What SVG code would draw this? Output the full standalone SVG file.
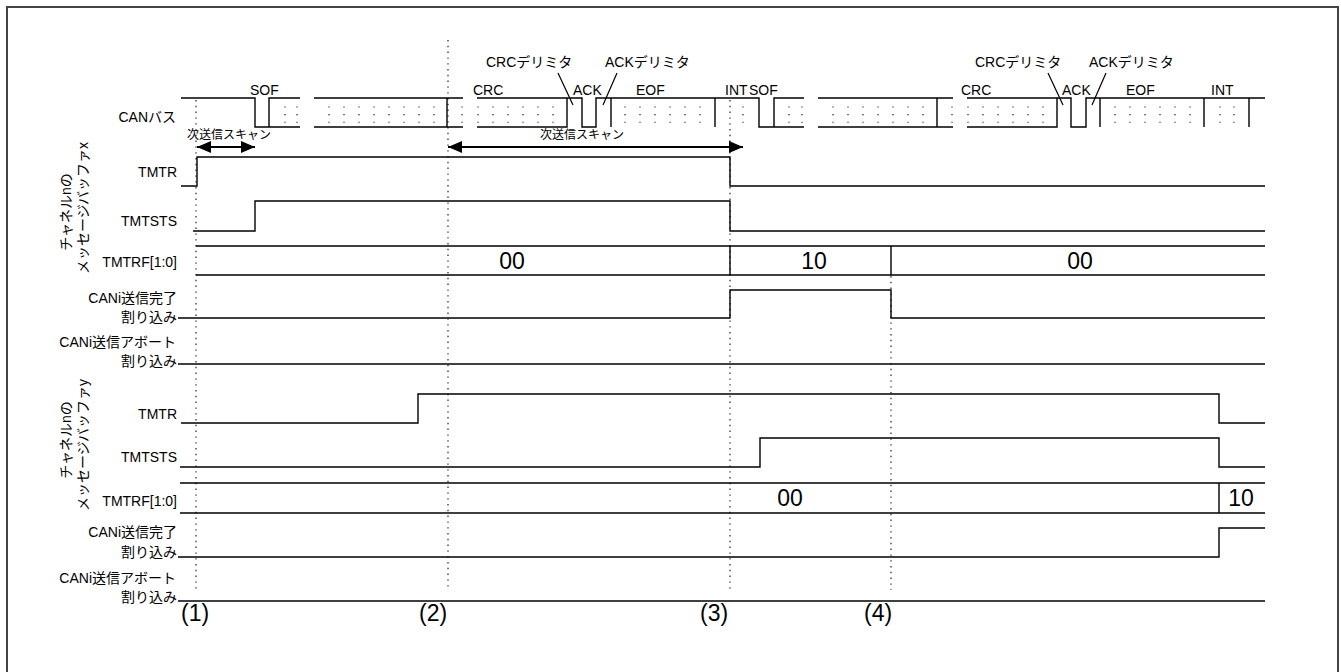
<svg xmlns="http://www.w3.org/2000/svg" width="1341" height="672" viewBox="0 0 1341 672">
<style>
text{font-family:"Liberation Sans","Noto Sans CJK JP",sans-serif;fill:#000}
.lbl{font-size:14px;text-anchor:end}
.bus{font-size:14px}
.scan{font-size:12px}
.val{font-size:23px;text-anchor:middle}
.pt{font-size:23px}
.sig{fill:none;stroke:#000;stroke-width:1.4}
.dot{fill:none;stroke:#000;stroke-width:1.1;stroke-dasharray:1.1 6.5}
.vdot{fill:none;stroke:#222;stroke-width:1.2;stroke-dasharray:1.4 4.4}
.lead{fill:none;stroke:#000;stroke-width:1.2}
.arr{fill:none;stroke:#000;stroke-width:2}
</style>
<defs>
<marker id="ah" viewBox="0 0 14 12" refX="14" refY="6" markerWidth="14" markerHeight="12" markerUnits="userSpaceOnUse" orient="auto-start-reverse">
<path d="M0,0 L14,6 L0,12 Z" fill="#000"/>
</marker>
</defs>
<rect x="7" y="7" width="1331" height="690" fill="#fff" stroke="#444" stroke-width="2"/>

<g id="markers">
<path class="vdot" d="M196,100 V590"/>
<path class="vdot" d="M448,40 V590"/>
<path class="vdot" d="M730,100 V590"/>
<path class="vdot" d="M891,276 V590"/>
<text class="pt" x="181" y="621">(1)</text>
<text class="pt" x="419" y="621">(2)</text>
<text class="pt" x="700" y="621">(3)</text>
<text class="pt" x="864" y="621">(4)</text>
</g>

<g id="group-x-label">
<text font-size="14" text-anchor="middle" transform="translate(71,212) rotate(-90)">チャネルnの</text>
<text font-size="14" text-anchor="middle" transform="translate(88,208) rotate(-90)">メッセージバッファx</text>
</g>
<g id="group-y-label">
<text font-size="14" text-anchor="middle" transform="translate(71,440) rotate(-90)">チャネルnの</text>
<text font-size="14" text-anchor="middle" transform="translate(88,445) rotate(-90)">メッセージバッファy</text>
</g>

<g id="canbus">
<text class="lbl" x="176" y="122">CANバス</text>
<path class="sig" d="M181,98 H255 V127 H269 V98 H300 M269,127 H300 M314,98 H463 M314,127 H463 M447,98 V127 M477,98 H582 V127 H596 V98 H759 V127 H774 V98 H804 M477,127 H567 V98 M774,127 H804 M611,98 V127 M715,98 V127 M818,98 H953 M818,127 H953 M937,98 V127 M967,98 H1071 V127 H1086 V98 H1265 M967,127 H1057 V98 M1100,98 V127 M1204,98 V127 M1249,98 V127"/>
<path class="dot" d="M285,106.5V124M297,106.5V124M329,106.5V124M344,106.5V124M359,106.5V124M374,106.5V124M389,106.5V124M404,106.5V124M419,106.5V124M434,106.5V124M462,106.5V124M478,106.5V124M493,106.5V124M508,106.5V124M523,106.5V124M538,106.5V124M553,106.5V124M625,106.5V124M640,106.5V124M655,106.5V124M670,106.5V124M685,106.5V124M700,106.5V124M743,106.5V124M789,106.5V124M802,106.5V124M833,106.5V124M848,106.5V124M863,106.5V124M878,106.5V124M893,106.5V124M908,106.5V124M923,106.5V124M952,106.5V124M968,106.5V124M983,106.5V124M998,106.5V124M1013,106.5V124M1028,106.5V124M1043,106.5V124M1115,106.5V124M1130,106.5V124M1145,106.5V124M1160,106.5V124M1175,106.5V124M1190,106.5V124M1220,106.5V124M1234,106.5V124"/>
<text class="bus" x="250" y="95">SOF</text>
<text class="bus" x="473" y="95">CRC</text>
<text class="bus" x="573" y="95">ACK</text>
<text class="bus" x="636" y="95">EOF</text>
<text class="bus" x="725" y="95">INT</text>
<text class="bus" x="749" y="95">SOF</text>
<text class="bus" x="961" y="95">CRC</text>
<text class="bus" x="1062" y="95">ACK</text>
<text class="bus" x="1126" y="95">EOF</text>
<text class="bus" x="1211" y="95">INT</text>
<text class="bus" x="486" y="67">CRCデリミタ</text>
<text class="bus" x="605" y="67">ACKデリミタ</text>
<text class="bus" x="975" y="67">CRCデリミタ</text>
<text class="bus" x="1089" y="67">ACKデリミタ</text>
</g>

<g id="x-tmtr">
<text class="lbl" x="177" y="177">TMTR</text>
<path class="sig" d="M181,186 H197 V157 H730 V186 H1265"/>
</g>
<g id="x-tmtsts">
<text class="lbl" x="177" y="226">TMTSTS</text>
<path class="sig" d="M193,231 H255 V201 H730 V231 H1265"/>
</g>
<g id="x-tmtrf">
<text class="lbl" x="177" y="267">TMTRF[1:0]</text>
<path class="sig" d="M196,246 H1265 M196,275 H1265 M730,246 V275 M891,246 V275"/>
<text class="val" x="512" y="269">00</text>
<text class="val" x="814" y="269">10</text>
<text class="val" x="1080" y="269">00</text>
</g>
<g id="x-done">
<text class="lbl" x="177" y="303">CANi送信完了</text>
<text class="lbl" x="177" y="322">割り込み</text>
<path class="sig" d="M178,318 H730 V290 H891 V318 H1265"/>
</g>
<g id="x-abort">
<text class="lbl" x="176" y="347">CANi送信アボート</text>
<text class="lbl" x="177" y="366">割り込み</text>
<path class="sig" d="M178,364 H1265"/>
</g>

<g id="y-tmtr">
<text class="lbl" x="177" y="419">TMTR</text>
<path class="sig" d="M181,423 H418 V394 H1219 V423 H1265"/>
</g>
<g id="y-tmtsts">
<text class="lbl" x="177" y="462">TMTSTS</text>
<path class="sig" d="M180,467 H760 V438 H1219 V467 H1265"/>
</g>
<g id="y-tmtrf">
<text class="lbl" x="177" y="506">TMTRF[1:0]</text>
<path class="sig" d="M180,483 H1265 M180,513 H1265 M1219,483 V513"/>
<text class="val" x="790" y="506">00</text>
<text class="val" x="1241" y="506">10</text>
</g>
<g id="y-done">
<text class="lbl" x="177" y="537">CANi送信完了</text>
<text class="lbl" x="177" y="557">割り込み</text>
<path class="sig" d="M178,557 H1219 V528 H1265"/>
</g>
<g id="y-abort">
<text class="lbl" x="176" y="583">CANi送信アボート</text>
<text class="lbl" x="177" y="602">割り込み</text>
<path class="sig" d="M178,601 H1265"/>
</g>

<g id="connectors">
<path class="lead" d="M558,73 L573,105 M617,73 L603,105 M1048,73 L1063,105 M1106,73 L1092,105"/>
<path class="arr" d="M197,147 H255" marker-start="url(#ah)" marker-end="url(#ah)"/>
<text class="scan" x="187" y="139">次送信スキャン</text>
<path class="arr" d="M448,147 H743" marker-start="url(#ah)" marker-end="url(#ah)"/>
<text class="scan" x="540" y="139">次送信スキャン</text>
</g>
</svg>
